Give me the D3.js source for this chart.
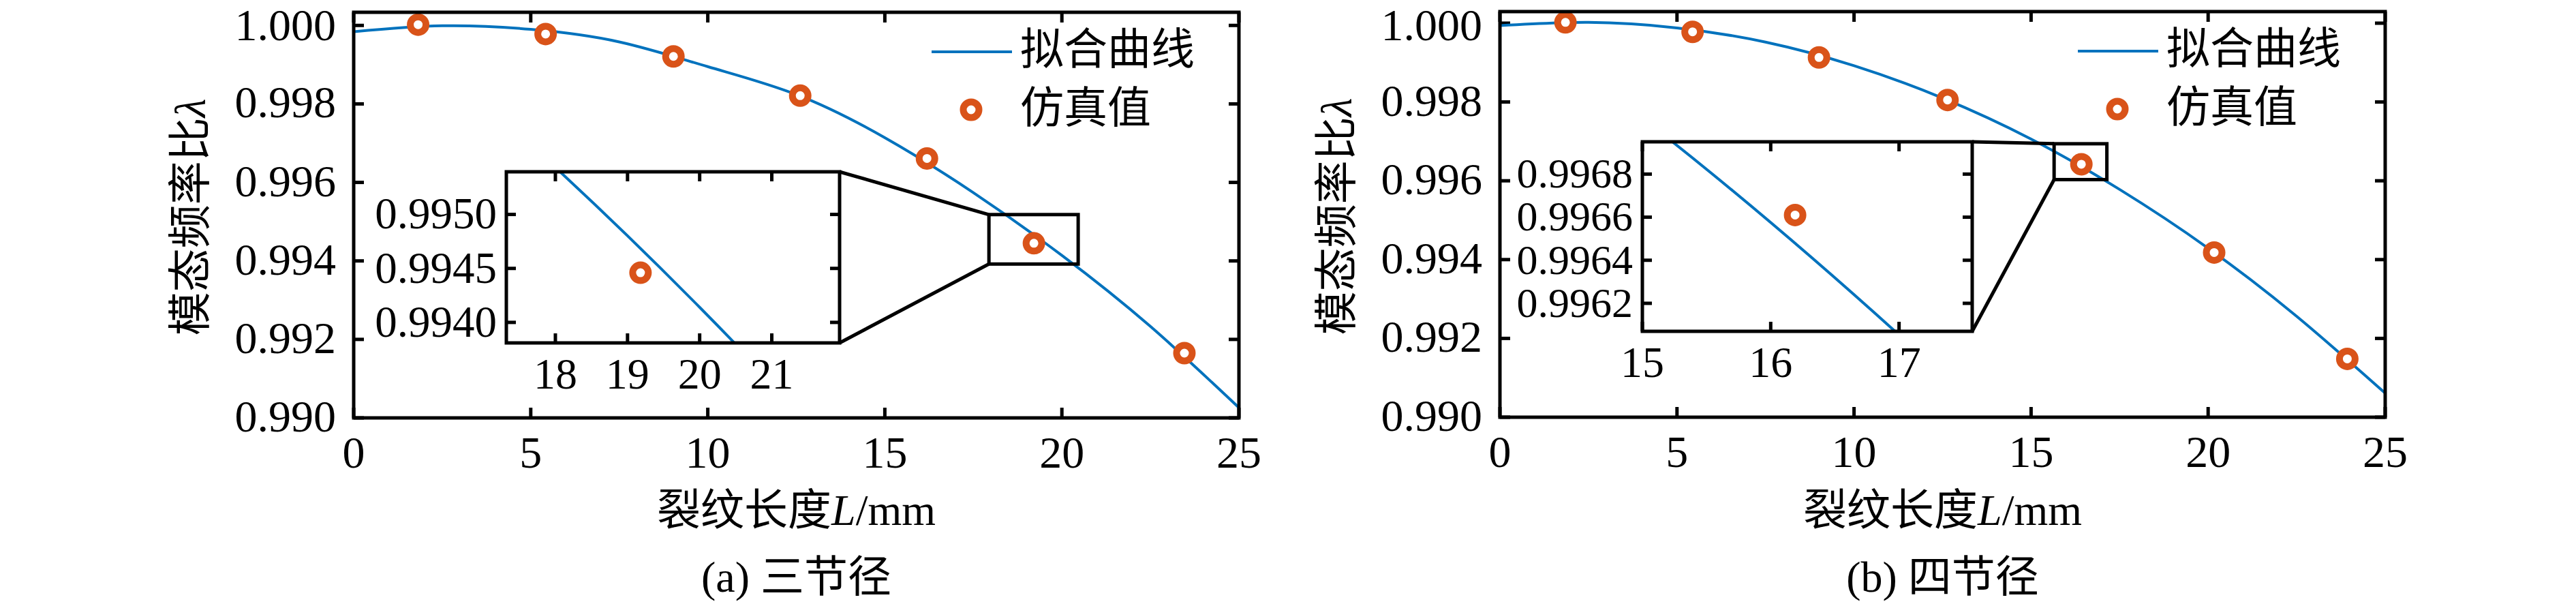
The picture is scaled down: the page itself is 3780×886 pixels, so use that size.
<!DOCTYPE html>
<html><head><meta charset="utf-8">
<script src="https://cdn.jsdelivr.net/npm/d3@7/dist/d3.min.js"></script>
<style>
html,body{margin:0;padding:0;background:#fff;}
svg{display:block;}
text{font-family:"Liberation Serif","Times New Roman","Noto Sans CJK SC",serif;fill:#000;}
</style></head>
<body>
<svg id="chart" width="3780" height="886"></svg>
<script>
// ---------- data ----------
const xTicks = [0, 5, 10, 15, 20, 25];
const yTicks = [0.990, 0.992, 0.994, 0.996, 0.998, 1.000];
const curveL = [0, 2.5, 5, 7.5, 10, 12.5, 15, 17.5, 20, 22.5, 25];
const curveA = [0.99984, 0.99999, 0.99990, 0.99958, 0.99895, 0.99824, 0.99714, 0.99574, 0.99414, 0.99233, 0.99026];
const curveB = [0.99994, 1.00002, 0.99988, 0.99952, 0.99892, 0.99810, 0.99706, 0.99578, 0.99429, 0.99256, 0.99061];
const simLA = [1.82, 5.42, 9.03, 12.61, 16.19, 19.21, 23.46];
const simA  = [1.00002, 0.99978, 0.99921, 0.99821, 0.99661, 0.99445, 0.99165];
const simLB = [1.85, 5.44, 9.01, 12.64, 16.42, 20.17, 23.93];
const simB  = [1.00002, 0.99978, 0.99913, 0.99805, 0.99642, 0.99418, 0.99148];
// insets
const insetXTicksA = [18, 19, 20, 21];
const insetYTicksA = [0.9940, 0.9945, 0.9950];
const insetXDomA = [17.32, 21.94];
const insetYDomA = [0.99381, 0.995395];
const insetPtA = [19.18, 0.99446];
const zoomBoxA = [17.94, 20.46, 0.99392, 0.99518];
const insetXTicksB = [15, 16, 17];
const insetYTicksB = [0.9962, 0.9964, 0.9966, 0.9968];
const insetXDomB = [15, 17.57];
const insetYDomB = [0.99607, 0.99695];
const insetPtB = [16.19, 0.99661];
const zoomBoxB = [15.65, 17.14, 0.99603, 0.99694];
// labels
const legendLabels = ["拟合曲线", "仿真值"];
const xTitle = ["裂纹长度", "L", "/mm"];
const yTitle = ["模态频率比", "λ"];
const captions = ["(a) 三节径", "(b) 四节径"];

// ---------- layout ----------
const BLUE = "#0072BD", ORANGE = "#D95319";
const panels = [
  {x0: 519, x1: 1818, y0: 613, y1: 18, yTop: 1.000335, curve: curveA, simL: simLA, sim: simA,
   inset: {box: [743, 1232, 252, 503], xt: insetXTicksA, yt: insetYTicksA, xd: insetXDomA, yd: insetYDomA, pt: insetPtA, fs: 65},
   zoom: zoomBoxA, caption: captions[0]},
  {x0: 2201, x1: 3500, y0: 612, y1: 17, yTop: 1.000294, curve: curveB, simL: simLB, sim: simB,
   inset: {box: [2410, 2894, 208, 486], xt: insetXTicksB, yt: insetYTicksB, xd: insetXDomB, yd: insetYDomB, pt: insetPtB, fs: 62},
   zoom: zoomBoxB, caption: captions[1]}
];

const svg = d3.select("#chart");
svg.append("rect").attr("width", 3780).attr("height", 886).attr("fill", "#fff");
const defs = svg.append("defs");

const SW = 5, TL = 15;

panels.forEach((p, i) => {
  const g = svg.append("g");
  const x = d3.scaleLinear().domain([0, 25]).range([p.x0, p.x1]);
  const y = d3.scaleLinear().domain([0.990, p.yTop]).range([p.y0, p.y1]);

  defs.append("clipPath").attr("id", "clip" + i).append("rect")
    .attr("x", p.x0).attr("y", p.y1).attr("width", p.x1 - p.x0).attr("height", p.y0 - p.y1);

  // ticks (inward, all four sides)
  const tg = g.append("g").attr("stroke", "#000").attr("stroke-width", SW);
  xTicks.forEach(t => {
    tg.append("line").attr("x1", x(t)).attr("x2", x(t)).attr("y1", p.y0).attr("y2", p.y0 - TL);
    tg.append("line").attr("x1", x(t)).attr("x2", x(t)).attr("y1", p.y1).attr("y2", p.y1 + TL);
  });
  yTicks.forEach(t => {
    tg.append("line").attr("x1", p.x0).attr("x2", p.x0 + TL).attr("y1", y(t)).attr("y2", y(t));
    tg.append("line").attr("x1", p.x1).attr("x2", p.x1 - TL).attr("y1", y(t)).attr("y2", y(t));
  });
  // tick labels
  g.selectAll(".xl").data(xTicks).enter().append("text")
    .attr("x", d => x(d)).attr("y", p.y0 + 73).attr("text-anchor", "middle")
    .attr("font-size", 66).text(d3.format("d"));
  g.selectAll(".yl").data(yTicks).enter().append("text")
    .attr("x", p.x0 - 26).attr("y", d => Math.max(y(d) + 20, 59)).attr("text-anchor", "end")
    .attr("font-size", 66).text(d3.format(".3f"));

  // curve
  const line = d3.line().x(d => x(d[0])).y(d => y(d[1])).curve(d3.curveNatural);
  const cdata = curveL.map((L, k) => [L, p.curve[k]]);
  g.append("path").attr("d", line(cdata)).attr("fill", "none").attr("stroke", BLUE)
    .attr("stroke-width", 4).attr("clip-path", `url(#clip${i})`);

  // simulated points
  g.selectAll(".pt").data(p.simL.map((L, k) => [L, p.sim[k]])).enter().append("circle")
    .attr("cx", d => x(d[0])).attr("cy", d => y(d[1])).attr("r", 11.5)
    .attr("fill", "#fff").attr("stroke", ORANGE).attr("stroke-width", 10);

  // frame
  g.append("rect").attr("x", p.x0).attr("y", p.y1).attr("width", p.x1 - p.x0).attr("height", p.y0 - p.y1)
    .attr("fill", "none").attr("stroke", "#000").attr("stroke-width", SW);

  // zoom box
  const zb = p.zoom;
  const zx0 = x(zb[0]), zx1 = x(zb[1]), zy0 = y(zb[2]), zy1 = y(zb[3]);
  g.append("rect").attr("x", zx0).attr("y", zy1).attr("width", zx1 - zx0).attr("height", zy0 - zy1)
    .attr("fill", "none").attr("stroke", "#000").attr("stroke-width", SW);

  // inset
  const ins = p.inset, b = ins.box;
  const ix = d3.scaleLinear().domain(ins.xd).range([b[0], b[1]]);
  const iy = d3.scaleLinear().domain(ins.yd).range([b[3], b[2]]);
  // connectors
  g.append("line").attr("x1", b[1]).attr("y1", b[2]).attr("x2", zx0).attr("y2", zy1)
    .attr("stroke", "#000").attr("stroke-width", SW);
  g.append("line").attr("x1", b[1]).attr("y1", b[3]).attr("x2", zx0).attr("y2", zy0)
    .attr("stroke", "#000").attr("stroke-width", SW);

  g.append("rect").attr("x", b[0]).attr("y", b[2]).attr("width", b[1] - b[0]).attr("height", b[3] - b[2])
    .attr("fill", "#fff");
  defs.append("clipPath").attr("id", "iclip" + i).append("rect")
    .attr("x", b[0]).attr("y", b[2]).attr("width", b[1] - b[0]).attr("height", b[3] - b[2]);
  const iline = d3.line().x(d => ix(d[0])).y(d => iy(d[1])).curve(d3.curveNatural);
  g.append("path").attr("d", iline(cdata)).attr("fill", "none").attr("stroke", BLUE)
    .attr("stroke-width", 4).attr("clip-path", `url(#iclip${i})`);
  g.append("circle").attr("cx", ix(ins.pt[0])).attr("cy", iy(ins.pt[1])).attr("r", 11.5)
    .attr("fill", "#fff").attr("stroke", ORANGE).attr("stroke-width", 10);

  const itg = g.append("g").attr("stroke", "#000").attr("stroke-width", SW);
  ins.xt.forEach(t => {
    itg.append("line").attr("x1", ix(t)).attr("x2", ix(t)).attr("y1", b[3]).attr("y2", b[3] - 14);
    itg.append("line").attr("x1", ix(t)).attr("x2", ix(t)).attr("y1", b[2]).attr("y2", b[2] + 14);
  });
  ins.yt.forEach(t => {
    itg.append("line").attr("x1", b[0]).attr("x2", b[0] + 14).attr("y1", iy(t)).attr("y2", iy(t));
    itg.append("line").attr("x1", b[1]).attr("x2", b[1] - 14).attr("y1", iy(t)).attr("y2", iy(t));
  });
  g.append("rect").attr("x", b[0]).attr("y", b[2]).attr("width", b[1] - b[0]).attr("height", b[3] - b[2])
    .attr("fill", "none").attr("stroke", "#000").attr("stroke-width", SW);
  g.selectAll(".ixl").data(ins.xt).enter().append("text")
    .attr("x", d => ix(d)).attr("y", b[3] + 67).attr("text-anchor", "middle")
    .attr("font-size", 64).text(d3.format("d"));
  g.selectAll(".iyl").data(ins.yt).enter().append("text")
    .attr("x", b[0] - 14).attr("y", d => iy(d) + ins.fs * 0.32).attr("text-anchor", "end")
    .attr("font-size", ins.fs).text(d3.format(".4f"));

  // legend
  const R = p.x1, T = p.y1;
  g.append("line").attr("x1", R - 451).attr("x2", R - 333).attr("y1", T + 58).attr("y2", T + 58)
    .attr("stroke", BLUE).attr("stroke-width", 4);
  g.append("text").attr("x", R - 321).attr("y", T + 54).attr("dominant-baseline", "central")
    .attr("font-size", 64).text(legendLabels[0]);
  g.append("circle").attr("cx", R - 393).attr("cy", T + 143).attr("r", 11.5)
    .attr("fill", "#fff").attr("stroke", ORANGE).attr("stroke-width", 10);
  g.append("text").attr("x", R - 321).attr("y", T + 140).attr("dominant-baseline", "central")
    .attr("font-size", 64).text(legendLabels[1]);

  // axis titles
  const cx = (p.x0 + p.x1) / 2, cy = (p.y0 + p.y1) / 2;
  const xt = g.append("text").attr("x", cx).attr("y", 770).attr("text-anchor", "middle").attr("font-size", 64);
  xt.append("tspan").text(xTitle[0]);
  xt.append("tspan").attr("font-style", "italic").text(xTitle[1]);
  xt.append("tspan").text(xTitle[2]);
  const yt = g.append("text").attr("transform", `translate(${p.x0 - 240},${cy + 3}) rotate(-90)`)
    .attr("text-anchor", "middle").attr("dominant-baseline", "central").attr("font-size", 64);
  yt.append("tspan").text(yTitle[0]);
  yt.append("tspan").attr("font-style", "italic").text(yTitle[1]);
  g.append("text").attr("x", cx).attr("y", 868).attr("text-anchor", "middle").attr("font-size", 64).text(p.caption);
});
</script>
</body></html>
